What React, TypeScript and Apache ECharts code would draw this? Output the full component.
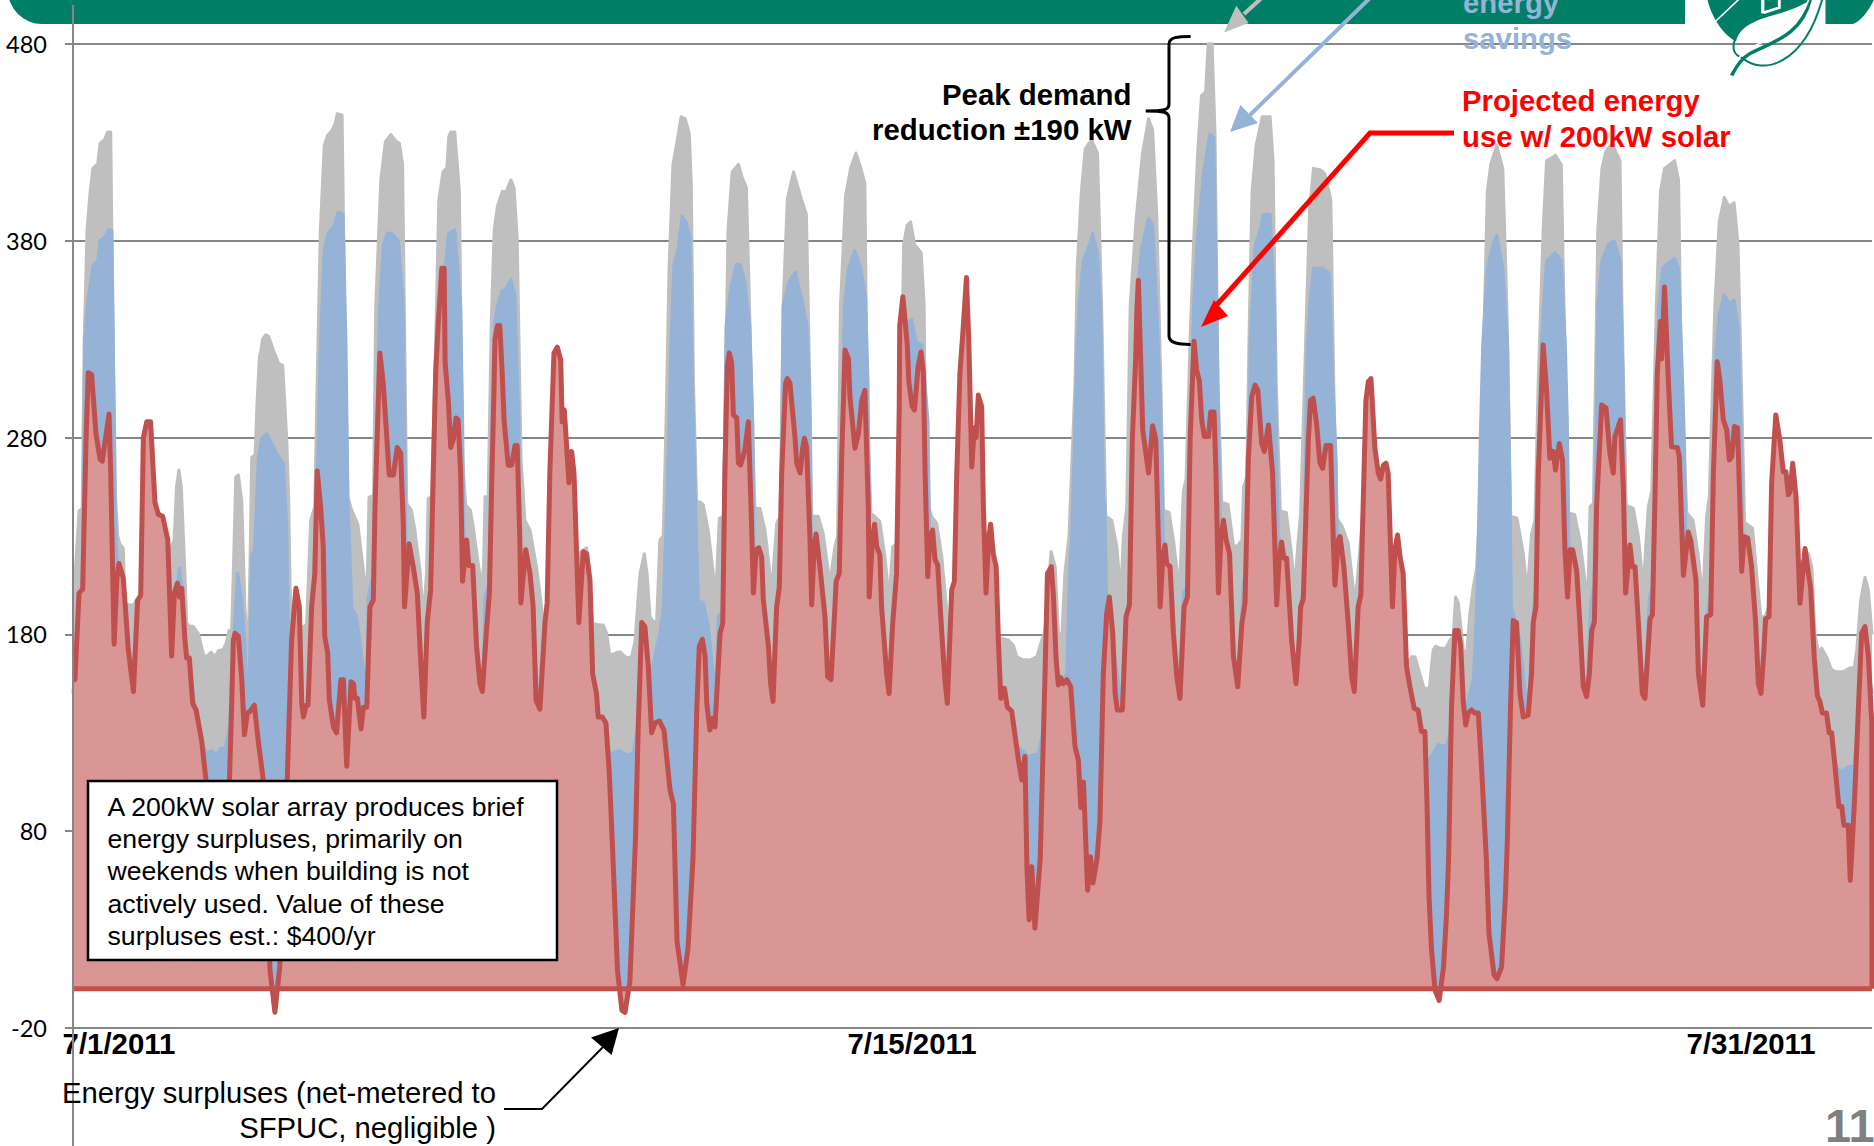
import React, { useEffect, useRef } from "react";
import * as echarts from "echarts";

// Hours since 7/1/2011 00:00 and kW.
const baselineKw: number[][] = [
[0,205],[0.9,211],[2.5,242.8],[3.8,243.8],[4.6,327.4],[5.8,385.7],[7.1,405],[8.2,416.8],[10.2,419],[11.2,429.5],[13.1,431.4],[14.3,435.3],[15.6,435.3],[16.4,346.8],[17.6,249.6],[18.5,230],[19.4,226],[20.8,223.7],[21.5,195.8],[23.3,195],[25,195],[26.3,198],[30,200],[38,215],[41.8,228],[42.8,255],[43.8,263.5],[44.8,255],[46.3,211],[47,185.6],[48.1,184.3],[49.8,184],[51.8,180.5],[53.2,173.8],[54.2,168.7],[56,169.5],[57.1,171],[58.7,168.7],[60.1,171.7],[62.2,172.4],[63.3,175.5],[64.5,182],[65.6,182.2],[66.3,211],[67.3,260],[68.4,261],[69.8,248],[71.1,194],[71.8,180],[72.6,180],[73.2,215],[73.9,270],[75.3,271],[76.2,300],[77.1,321],[77.7,324.4],[78.5,330.3],[79.7,332.2],[81,331.3],[83,324],[85.1,317.6],[86.7,316.7],[87.5,300],[88.4,279],[89.2,249.6],[89.8,202.6],[91,175],[93,180],[95.3,184],[96.6,185],[98.3,238],[100,245],[101,310],[102.3,385.7],[103.9,428.5],[105.2,433.4],[107.2,436.3],[108.5,440],[109.3,444.6],[111.3,444],[112.4,337],[113.7,249.6],[115.3,243],[117.8,236],[119.9,214.6],[121,203],[121.5,198],[122.1,230],[122.4,249.6],[124.3,250.6],[125.2,346.8],[127.3,411],[129.2,430.4],[131.4,434],[133.8,430.4],[135,429.5],[136.3,418.8],[137.4,308],[138,246.6],[140,243],[141.4,233],[143.5,212.7],[144.9,189],[146.2,211],[146.9,249],[148.3,250],[150,330],[151.3,401],[153,415],[154.6,417],[155.4,433],[156.2,435.3],[157.9,435.3],[159.8,405],[161.1,269],[162.4,245.7],[164.4,243],[165.5,234.7],[167.6,216],[169,204],[169.8,215],[170.4,250],[171.7,250],[173,340],[174.2,385.7],[175.5,397.4],[177.5,405],[179.1,405],[181.1,411],[182.4,407],[183.7,381.8],[185.3,269],[186.9,238],[189,233],[191.7,214.4],[193.8,194],[196,165],[205,200],[210,222],[212.4,224],[213.8,208],[214.9,185.6],[218,184.8],[219.3,184.8],[220.7,180.5],[222,169.5],[224.1,170.4],[226.2,171.2],[229,168],[231,168.7],[232.4,176.3],[233.5,195],[234.5,211],[236.3,221],[237.5,210],[238.6,189],[240,186.5],[241.4,187],[242.7,228],[244.1,230],[245.3,290],[246.5,366],[248.1,418.8],[249.8,430.4],[251.5,443],[253.2,442],[254.9,434.3],[255.7,409],[256.6,308],[257.9,247.6],[259.3,247.3],[260.7,245.7],[262.8,232],[264.8,211],[265.5,197.5],[266.2,210],[267.3,239],[269,240],[270.9,385.7],[272.6,415],[275.2,418.8],[276.8,412],[278.5,407],[280.6,308],[282,244],[284.1,244],[286.2,233],[289,202.6],[291,236.4],[292.4,240],[293.7,347],[295.4,401.3],[298,415],[301.3,401],[303.3,393.5],[304.7,308],[305.5,240],[308.2,240],[310.3,231],[313,206],[315.1,224.6],[316.2,230],[317.4,347],[319.5,403],[321.6,417],[323.8,424.6],[325.8,417],[327.5,409],[328.3,308],[330,241],[331,240.7],[333.7,237.3],[335.8,219.5],[337.5,197.5],[339,224.6],[340.6,226],[342.7,308],[343.5,378],[344.9,387.7],[346.4,389.6],[348.1,378],[350.8,374],[352,347],[352.8,249.6],[355.1,240],[357.2,236.4],[359.3,219.5],[361.6,189],[364,175],[372,190],[380,180],[384.1,178],[386.9,177],[388.9,174.6],[390.3,168.7],[392.4,167.3],[395.8,167],[398.6,168.7],[400.6,177],[402,182],[403.3,205],[404.5,222],[406.2,214.4],[407.5,180.5],[409,180.5],[410.2,211],[411.9,230],[414.4,308],[415.3,366],[417,405],[418.6,426.6],[421.2,431.4],[423.7,424.6],[425.4,347],[427.1,240],[429.6,238],[431.7,224.6],[433.3,201],[434.4,229.7],[435.8,245],[437.2,347],[439.7,391.5],[442.3,424.6],[444.8,442],[446.5,436.3],[448.2,393.5],[449.9,308],[451,243],[453.3,242],[455.1,228],[457.6,202.6],[459.2,253],[460.3,258.5],[462,330],[463.4,378],[465.1,424.6],[466.7,453.8],[468.4,455.7],[469.6,483],[471,484],[472.3,434.3],[473.5,308],[475.1,247],[477.7,246],[479.9,225.4],[481.3,224.6],[483.4,228],[484.1,255],[485.4,260],[486.5,340],[487.6,405],[489.3,428.5],[491.8,443],[495.1,443],[496.3,420.7],[497.6,308],[499.3,242.8],[501.8,241.8],[504,220.4],[505.2,203],[506.5,225],[507.7,241.8],[510.2,347],[511.4,395.4],[513,416.8],[516,416],[517.7,414],[520.2,401],[521.4,308],[522.7,239],[525,234.7],[527.4,226.3],[530.2,195.8],[532,220],[533.6,245],[536,230],[545,190],[552,165],[553.6,168.7],[555,168.7],[557,160],[558.8,152.6],[560.9,152.6],[562.5,172],[563.5,174],[565.3,173],[567.8,173],[569.4,177],[570.8,179],[571.8,199],[572.9,196],[575,172],[576.3,169.5],[577.7,190.7],[579.1,204],[580.5,214],[581.5,240],[582.9,308],[583.8,347],[584.9,405],[586.3,418.8],[588.8,428.5],[591.3,416.8],[593,347],[594.6,240],[597.2,239],[599.8,221],[601.4,201],[603.2,231],[604.6,238],[606,310],[608,385.7],[609.4,420.7],[612.2,422.7],[613,423.6],[615.5,418.8],[617.2,308],[618,241.8],[621,241],[623.2,228],[625.3,207.6],[626.3,190],[627.4,245],[628.8,246.6],[630.6,385.7],[632.3,416.8],[634,425.6],[636.4,429.5],[639.8,420.7],[640.6,347],[642.3,245.7],[645.3,244],[647.4,229.7],[649.4,204],[651.5,245],[652.9,253],[654.8,347],[656.5,405],[658.2,416.8],[662.4,420.7],[664,411],[665.2,308],[667.4,241.8],[670,238],[672.2,219.5],[674,197.5],[675.6,240],[676.7,250],[679,347],[680.8,389.6],[682.9,402],[684.9,397.4],[687,399.3],[688.6,378],[690,308],[691.3,237],[694.6,234],[696.3,211],[698,189],[699.8,189],[703,200],[710,210],[717.7,221],[719.1,214.4],[720.4,180.5],[721.8,171],[723.2,173],[725.2,168.7],[727.3,162],[729.4,161],[732.1,161],[734.9,163],[736.6,163],[737.7,172],[739.3,197.5],[741.1,209],[742.5,202.6],[744,180],
];

const afterEfficiencyKw: number[][] = [
[0,150],[2.5,195],[3.8,200],[4.9,331],[6.1,349],[8.2,367.2],[10.2,370],[11.2,380],[13.1,382],[14.8,385.7],[16.1,385],[16.7,327],[17.4,245],[18,224.6],[19,205],[22,160],[25,135],[27,180],[35,190],[42,195],[43,205],[44,213.6],[45,205],[46,180],[48,165],[52,130],[55.3,119.6],[57.4,121],[59.2,118.7],[60.8,122],[62.9,122],[64.7,133],[65.6,160],[67,189],[68.1,211],[69.8,197.5],[71.1,177],[72.1,143],[72.6,143],[73.2,177],[73.9,221],[75,222],[76.7,270],[78,279.6],[80.1,282],[82.2,277],[84.2,272],[87,267],[88.4,236],[89.1,177],[89.5,100],[92,115],[97,130],[99,190],[100.4,245],[101.2,270],[102.3,327.4],[103.9,376],[105.5,383.8],[108,387.7],[109.6,394.5],[111.7,393.5],[112.9,327.4],[113.7,250],[115.3,194],[117.3,189],[119.4,169],[120.8,157],[121.5,150],[122.1,199],[124,210],[126.8,347],[128.4,378],[130,383.8],[131.7,384],[134.6,380],[136.6,347],[137.3,279],[137.6,230],[139,200],[141,190],[143,165],[144.9,135],[146.2,175],[147,199],[148.3,199],[150,280],[151.3,347],[153.8,366],[155.4,383.8],[157.9,385.7],[160.3,347],[161.1,292.4],[161.8,220],[165,190],[168,160],[169.3,145],[170.4,199],[172,205],[173.4,300],[174.2,337],[175.5,347],[177.5,354.6],[179.1,355.6],[181.1,360.4],[182.7,352.7],[184.4,288.5],[185,215],[190,180],[193,140],[196,160],[205,170],[212,170],[216,140],[222,119.6],[222.7,119.6],[226.2,121],[229.2,118.7],[231.7,119.6],[233,130],[236,150],[239,160],[242.7,180.5],[244.1,194],[245.6,249.6],[247.3,327.4],[248.5,368],[250.2,376],[251.9,392.5],[253.5,389.6],[255.2,382],[256.2,308],[257.4,249.6],[258.6,197.5],[260.7,196],[262.8,184],[264.8,160],[265.5,140],[266.9,189],[268.5,192],[270.1,337],[271.8,354.6],[274.3,368],[276,368],[277.7,360],[279.9,337],[281.1,288.5],[281.8,210],[284,190],[287,165],[289.5,140],[291.5,190],[292.5,205],[293.7,347],[296.3,360],[298.8,364],[301.3,351],[303.5,337],[304.7,298],[305.5,215],[308,190],[311,170],[313.5,145],[315.5,190],[317,210],[319,347],[320.7,366],[323.3,375],[325.8,366],[327.8,351],[328.8,308],[329.5,215],[333,190],[336,165],[337.5,145],[339,185],[341,205],[342.5,280],[345.2,339],[346.9,340],[348.6,329],[351.1,327],[353.6,288.5],[354.5,215],[358,190],[361.6,145],[364,175],[370,180],[380,165],[385,130],[395.1,118],[399.3,119.6],[401,130],[405,150],[411,160],[411.7,194],[412.4,219.5],[413,230],[414.4,288],[415.3,327],[416.1,347],[417.8,370],[420.3,378],[421.7,383.8],[423.7,374],[425,347],[426.2,249.6],[426.8,245],[427.5,194],[430,175],[433,150],[434.5,145],[436,190],[437.5,210],[439.7,347],[441.9,376],[444.8,391.5],[446.5,388],[448.2,347],[449.4,308],[450.4,269],[451,215],[454,190],[457.5,150],[459.2,201],[461,205],[463.4,347],[465,382],[467.6,415],[470.1,434.3],[471.8,432.4],[473,347],[474.3,249.6],[474.9,215],[478,190],[481.7,150],[484,207],[486,215],[486.8,327.4],[488.9,378],[491,385.7],[492.3,393.5],[495.1,393.5],[496.8,347],[498,259],[498.7,215],[502,190],[505.8,150],[507.7,195],[509,205],[510.2,317.6],[511.4,347],[513,366],[516.9,366],[519.7,363.4],[521,308],[522.4,269],[523,215],[527,180],[530,150],[532,195],[536,190],[545,170],[552,140],[557,125],[560,115],[562.5,119.6],[564.6,124],[568,123],[569.4,130],[576.3,143],[579.1,157],[580.5,194],[581.2,228],[582,280],[583,327.4],[584.9,366],[587.1,378],[588.8,383],[591.3,366],[593.3,327],[594.3,249.6],[594.9,194],[598.4,177],[600.5,152],[601.8,140],[603.5,185],[605,205],[607.2,327],[609.4,370],[611.4,372],[613,374],[615.5,370],[617.2,327],[618,288.5],[618.8,215],[622,190],[625,155],[626,148],[627.6,196],[629,205],[630.6,347],[632.3,370],[634.8,378],[637.3,380],[639.8,370],[641.1,308],[642,215],[646,190],[650,150],[651.9,199],[653.5,205],[655.7,347],[657.4,366],[659.9,369],[662.4,371],[664,366],[665.7,308],[666.5,275],[667,215],[671,185],[674,145],[676,190],[678,210],[679,317.6],[680.8,343],[682.9,352.7],[684.9,348],[687,350],[688.6,337],[690,279],[690.8,215],[694,190],[698,150],[700,187],[705,185],[715,175],[722,135],[727,120],[730.1,111],[732.1,111],[734.6,113],[736.6,113],[738,135],[740,165],[742,170],[744,150],
];

const withSolarKw: number[][] = [
[0,157],[0.8,157],[2.5,201],[4,203],[5.4,279],[6.3,313],[7.7,312],[9.5,282],[11.2,269],[12.1,268],[13.5,280],[14.9,292],[15.6,262],[17,175],[18.1,208],[19,216],[20.8,208.5],[22.9,172],[25,151],[26.7,197],[28,200],[29.1,280],[30.5,288],[32.1,288],[33.9,247],[35.3,241],[37.1,240],[39.2,228],[40.8,169],[41.9,201],[43.2,206],[44,199],[45,203.4],[46.3,177],[47,168],[48.1,168],[49.5,145],[50.9,141.6],[53.2,126],[55,106],[58,70],[60,55],[62,60],[64.7,106],[65.6,143],[66.3,177],[67,180.6],[68.4,179],[69.8,157],[70.9,129],[72.1,140],[73.2,141],[75,144],[76.6,126],[78.7,106],[81.5,9],[83.5,-12],[85.5,11],[88.6,106],[90.4,177],[92.2,203.4],[93.6,194],[94.6,145],[95.3,138],[96.4,144],[97.2,144],[98.7,194],[100,211],[101,263],[102.4,245],[103.5,224.6],[104.1,179],[105.3,171],[106,146.7],[107.7,133],[109,130],[110.8,157],[111.8,157],[113.2,113],[115,156],[116,155],[116.6,147.5],[117.6,147.5],[119.1,132],[120.1,143],[121.5,143],[122.8,194],
[124.2,197.5],[124.9,245],[126.9,323],[128.3,307.6],[130.8,261],[132.5,261],[134.1,275],[135.5,272],[136.6,236],[137.1,194],[139,226],[140.7,214.4],[142.4,201],[144.2,157],[145.1,138],[146.5,186],[147.9,202.6],[149,262],[150,313],[151,337],[152.5,366],[153.5,366],[153.9,318],[155.2,299],[156.2,275],[157.3,279],[158.4,290],[159.3,289],[160.3,262],[161.1,207],[162.8,228],[163.7,215],[165.3,215],[166.9,174],[168.3,155],[169.3,151],[171,182],[172.2,201],[173.1,253],[174.1,304],[174.5,330],[175.6,337],[176.5,337],[177.5,313],[178.3,288.4],[180,266],[181.4,266],[182.8,276],[183.7,276],[184.8,228],[185.2,196],[187.2,223],[189,211],[190.3,194],[191.5,146.7],[193.1,142],[195.2,186],[196.1,196],[197.2,262],[198.9,323],[200.3,326],[201.7,319.5],[202.3,288],[203.2,294],[205.1,257],[206.2,273],[207.2,262],[209.2,186],[211,222],[212.4,221],[213.8,207.6],[214.9,160],[216.5,150],[217.2,138],[218.9,138],[220.4,135],[221.8,109.4],[223,75.5],[225.2,9],[227,-11],[228.3,-12],[230.3,3.6],[232.6,75.5],[233.8,135],[235.2,186],[236.5,184],[237.9,164],[239.3,130],[240.7,135],[242.5,136],[244.4,131.4],[246.9,101],[248.3,94],[249.8,24],[252.3,2],[254.3,20],[256.4,66],[258,143],[259,174],[260.3,177.5],
[261.4,169],[262.1,145],[263.4,131.4],[264.5,137.4],[265.5,133],[267.6,180.5],[268.7,185.6],[269.6,262],[270.6,316],[271.4,323],[272.4,318],[273.1,291.5],[274.5,290],[275.2,267],[276.1,266],[277.9,274],[279.3,288],[280.4,245],[281.4,201],[282.5,223],[283.6,224],[284.8,219.5],[285.5,197.5],[287.6,174],[288.5,155],[289.5,146],[291,194],[292.1,204],[293.1,262],[294.7,307.6],[295.4,310],[296.5,307.6],[298.6,280],[299.3,267],[300.7,262],[301.8,275],[302.5,279.6],[303.4,275],[304.8,228],[305.5,195],[306.5,224.6],[307.3,231],[308.9,214.4],[311,189],[312.1,158.5],[313.5,157],[315.1,194],[315.6,207],[316.9,211],[317.9,270],[319.3,324.5],[320.7,320],[321.3,301],[323.4,274.6],[324.8,282],[326.2,299],[327.5,304],[328.9,245],[329.3,199],[330.6,228],[331.5,236],[332.4,224.6],[333.7,220.4],[334.4,194],[336.5,160],[337.5,150],[339,185.6],[340.6,211],[341.7,296],[341.9,337],[343.2,351.6],[345,327.6],[345.7,308],[347,296],[348,294],[349.5,316],[350.7,323.5],[351.7,312.7],[352.4,262],[353.5,209.3],[354.4,229.7],[355.5,233],[356.5,218],[357.6,215.3],[359.3,180.5],[360.6,157],[361.6,145],[363.4,202.6],[364.5,207],[365.5,262],[366.8,312.7],[368,333],[369.5,361.4],[370.5,327.6],[371.7,265],[372.7,285],[373.5,280],[374.4,301.6],[375.8,295.7],[376.5,245],[377.6,201],
[378.6,228],[379.5,236],[380.6,221],[381.8,214.4],[382.7,177],[383.7,147.5],[385.2,152.6],[386.4,143],[388.2,141],[391,116.2],[392.4,106],[393.7,118],[394.5,62],[395.4,35],[396.5,62],[397.8,30.8],[400,66],[402,160],[403,211],[404.6,214.4],[405.5,199],[406.6,167],[407.5,154.3],[408.5,158],[409.6,155],[411,157],[412.6,153.5],[414.4,123],[415.8,116],[416.8,92],[417.9,105],[419.6,50],[420.8,67],[421.8,53.7],[423.5,66],[424.7,85],[426.1,160],[427.5,190.7],[428.6,199],[430,180.5],[431,150],[431.9,141.6],[434,141.6],[435.5,189],[436.9,195],[438.1,279],[439.5,321],[440,345],[440.6,360],[441.3,330],[442.4,284],[444.8,262],[446.5,286],[447.8,279],[449.6,194],[450.7,219.5],[451.6,225.4],[452.3,216],[453.7,214.4],[455.1,180.5],[456.5,158.5],[457.8,147.5],[459.5,194],[460.9,199],[462,279],[463.6,329],[464.7,314.3],[465.8,309],[466.8,289],[467.9,280.5],[469.6,280.5],[470.5,293],[471.9,293],[472.7,262],[473.7,201],[474.7,228],[475.8,238],[476.9,228],[478.3,221],[479.9,169],[481.7,153.4],[483.4,185.6],[484.7,196],[486.1,270],[487.5,300.8],[488.9,306.7],[490,304],[491.6,277],[492.7,273],[494.4,286.4],
[496.1,262],[497.8,195],[498.9,219.5],[499.8,227],[500.8,218.7],[501.9,218.7],[504,177],[505.8,155],[507.1,177],[507.7,194],[508.8,198],[510.9,278.8],[511.8,299],[512.9,300],[514.3,287],[515.7,267],[516.8,264.4],[518.2,276],[520.1,276],[521.2,228],[521.9,205],[523.3,228],[524,229.7],[525.6,214.4],[527.4,185.6],[528.8,158.5],[529.9,151],[531.5,194],[532.6,200],[533.9,262],[534.7,299],[535.7,308.4],[536.8,310],[538.4,275],[539.8,262],[540.8,259],[541.9,266],[543,267],[543.9,262],[545.7,194],[546.7,223],[547.8,230.5],[548.8,219.5],[550.1,211],[551.5,163.6],[552.9,153.4],[554.7,142.4],[556.3,141.6],[557.7,130.6],[559.1,130.6],[560,92.5],[560.8,47],[561.8,20.4],[563.3,-1],[565,-6],[566.8,11],[568,37],[568.9,66],[570.1,143],[571.5,182],[572.9,182],[573.9,174],[575,145],[576,134],[577,140],[578.4,141.6],[579.8,140],[581.2,140],[582.5,113],[584.5,66],[585.6,28],[587.7,7],[588.9,5],[590.8,11],[592.4,47],[593.2,75.5],[594.5,143],[595.6,187],[597,186],[598.4,150],[599.8,138],[601.8,139],[603.2,160],[603.9,186],[605,194],[606,262],[608,327],[609.4,304],[610.8,269.5],[612.2,273],[613.1,263.5],[614.7,277],[616,268.6],[617,223],[618.1,199],[619.1,223],
[620.2,223],[621.9,212],[623.2,185.6],[624.6,153.4],[626,148.4],[627.1,160],[628.1,182],[629.2,186.5],[630.1,245],[632.2,296.6],[634,295],[635.6,272],[637,262],[637.7,280.5],[640,289],[641.2,253],[642.1,201],[643.9,225.4],[644.9,214.4],[646,214.4],[647.4,185.6],[649,150],[650.1,147.5],[651.2,168.7],[652.2,188],[653.2,190],[654.3,253.4],[655.2,312.7],[656.5,339],[657,320],[658.2,356.5],[659.8,308],[661.1,275.4],[663.5,275],[664.3,270.3],[666,210],[668,232],[669,228],[671.2,207.6],[672.2,160],[674,144],[675.6,189],[677.3,190],[678.4,262],[680,318.6],[681.1,309],[682.5,289],[683.9,284],[685,268.6],[686,270.3],[687.1,285.6],[688.4,285],[689.4,245],[690.1,212],[691.1,229.7],[692.6,229],[694.2,214.4],[695.9,185.6],[697,155],[698.1,150],[699.3,172],[700,188],[701.4,189],[702.5,257],[704.2,291.5],[705.9,278.8],[707.3,262.7],[708.4,262.7],[709.4,251],[710.1,252.5],[711.2,267],[712.6,250],[714.2,195.8],[716.3,223.7],[717.7,211],[718.6,204],[720.1,168.7],[721.4,149],[722.5,145.8],[723.5,140],[725.2,140],[726.3,130],[727.3,130],[728.7,113],[730.3,92.5],[731.5,92.5],[732.4,83],[734.2,83],[735,55],[736.7,94],[738.4,143],[739.7,180.5],[741.1,184],[742.5,169],[743.9,135],[744,135],[744,0],
];

const zeroLineKw: number[][] = [[0, 0], [744, 0]];

const yTickValues = [-20, 80, 180, 280, 380, 480];
const dateTickHours = [19, 347, 694];
const dateTickLabels = ["7/1/2011", "7/15/2011", "7/31/2011"];

const boxLines = [
  "A 200kW solar array produces brief",
  "energy surpluses, primarily on",
  "weekends when building is not",
  "actively used. Value of these",
  "surpluses est.: $400/yr",
];
const peakLines = ["Peak demand", "reduction \u00b1190 kW"];
const solarLines = ["Projected energy", "use w/ 200kW solar"];
const savingsLines = ["energy", "savings"];
const surplusLines = ["Energy surpluses (net-metered to", "SFPUC, negligible )"];

const GREEN = "#007F66";
const SANS = '"Liberation Sans", Arial, sans-serif';

echarts.graphic.registerShape(
  "headerRight",
  echarts.graphic.extendPath("M1825.5 -5 L1825.5 24 L1853 24 C1861 21 1870 10 1876 -5 Z", {}),
);
echarts.graphic.registerShape(
  "brace",
  echarts.graphic.extendPath(
    "M1190.6 36.4 C1178 36.4 1169 37 1169 44 L1169 104 C1169 110 1164 111 1145.7 111 C1164 111 1169 112 1169 118 L1169 336 C1169 343 1178 344.4 1190.6 344.4",
    {},
  ),
);
echarts.graphic.registerShape(
  "leafTop",
  echarts.graphic.extendPath("M1156 -5 C1168 50 1198 92 1228 108 C1236 72 1270 55 1320 40 C1370 25 1400 10 1418 -5 Z", {}),
);
echarts.graphic.registerShape(
  "leafStem",
  echarts.graphic.extendPath("M1217 197 C1232 165 1245 150 1262 140 C1310 112 1392 95 1412 -5", {}),
);
echarts.graphic.registerShape(
  "leafEdge",
  echarts.graphic.extendPath("M1226 100 C1215 130 1225 145 1245 152 C1290 195 1395 175 1442 -5", {}),
);

function text(
  content: string,
  x: number,
  y: number,
  size: number,
  fill: string,
  align: string,
  bold = false,
  z = 60,
) {
  return {
    type: "text",
    x,
    y,
    z,
    silent: true,
    style: {
      text: content,
      fill,
      font: `${bold ? "bold " : ""}${size}px ${SANS}`,
      align,
      verticalAlign: "middle",
      textAlign: align,
      textVerticalAlign: "middle",
    },
  };
}

function arrow(points: number[][], head: number[][], color: string, width: number) {
  return [
    { type: "polyline", z: 55, silent: true, shape: { points }, style: { stroke: color, lineWidth: width, fill: "none" } },
    { type: "polygon", z: 55, silent: true, shape: { points: head }, style: { fill: color } },
  ];
}

function buildGraphics() {
  const els: any[] = [
    { type: "rect", z: 40, silent: true, shape: { x: 8, y: -40, width: 1677, height: 64, r: [0, 0, 0, 34] }, style: { fill: GREEN } },
    { type: "headerRight", z: 40, silent: true, style: { fill: GREEN } },
    {
      type: "group",
      x: 1240,
      y: 0,
      scaleX: 1 / 2.473,
      scaleY: 1 / 2.613,
      children: [
        { type: "leafTop", z: 41, silent: true, style: { fill: GREEN } },
        { type: "line", z: 42, silent: true, shape: { x1: 1178, y1: 55, x2: 1236, y2: -3 }, style: { stroke: "#ffffff", lineWidth: 4 } },
        { type: "rect", z: 42, silent: true, shape: { x: 1290, y: -5, width: 8, height: 40 }, style: { fill: "#ffffff" } },
        { type: "polyline", z: 42, silent: true, shape: { points: [[1296, 33], [1335, 20], [1335, -3]] }, style: { stroke: "#ffffff", lineWidth: 7, fill: "none" } },
        { type: "leafEdge", z: 41, silent: true, style: { stroke: GREEN, lineWidth: 5, fill: "none" } },
        { type: "leafStem", z: 42, silent: true, style: { stroke: GREEN, lineWidth: 9, fill: "none" } },
        { type: "leafStem", x: 0, y: -14, z: 42, silent: true, style: { stroke: "#ffffff", lineWidth: 4, fill: "none" } },
      ],
    },
    { type: "line", z: 50, silent: true, shape: { x1: 73, y1: 5, x2: 73, y2: 1146 }, style: { stroke: "#868686", lineWidth: 2 } },
    { type: "rect", z: 56, silent: true, shape: { x: 88, y: 781, width: 469, height: 179 }, style: { fill: "#ffffff", stroke: "#000000", lineWidth: 2.5 } },
    { type: "brace", z: 55, silent: true, style: { stroke: "#000000", lineWidth: 3, fill: "none" } },
    ...arrow([[1244, 14], [1266, -6]], [[1224, 32.5], [1236.3, 5.7], [1248.6, 23]], "#BFBFBF", 4),
    ...arrow([[1250, 115], [1372, -4]], [[1230, 132], [1240.4, 105], [1258, 123]], "#95B3D7", 4),
    ...arrow([[1454, 133], [1370, 133], [1214, 308]], [[1201, 327], [1214, 300], [1228, 316]], "#FF0000", 5),
    ...arrow([[504, 1109], [542, 1109], [604, 1046]], [[619, 1028], [591, 1037.6], [611.6, 1055]], "#000000", 2),
  ];
  boxLines.forEach((line, i) => els.push(text(line, 107.5, 807 + i * 32.2, 26.65, "#000000", "left")));
  peakLines.forEach((line, i) => els.push(text(line, 1131.5, 94 + i * 35, 29.4, "#000000", "right", true)));
  solarLines.forEach((line, i) => els.push(text(line, 1462, 100 + i * 36, 29.3, "#FF0000", "left", true)));
  savingsLines.forEach((line, i) => els.push(text(line, 1463, 2.5 + i * 36, 29.3, "#95B3D7", "left", true)));
  surplusLines.forEach((line, i) => els.push(text(line, 496, 1092.5 + i * 35.5, 29.25, "#000000", "right")));
  els.push(text("11", 1825, 1125, 47, "#7F7F7F", "left", true));
  return els;
}

function areaSeries(name: string, data: number[][], fill: string, z: number) {
  return {
    name,
    type: "line",
    data,
    z,
    showSymbol: false,
    silent: true,
    lineStyle: { color: fill, width: 3, join: "round" },
    itemStyle: { color: fill },
    areaStyle: { color: fill, opacity: 1, origin: 0 },
  };
}

export default function App() {
  const ref = useRef<HTMLDivElement>(null);
  useEffect(() => {
    const chart = echarts.init(ref.current!, undefined, { renderer: "svg" });
    chart.setOption({
      animation: false,
      backgroundColor: "#ffffff",
      graphic: { elements: buildGraphics() },
      grid: { left: 73, right: 2, top: 44, bottom: 118, containLabel: false },
      xAxis: {
        type: "value",
        min: 0,
        max: 744,
        splitLine: { show: false },
        axisLine: { show: false },
        axisTick: { show: false },
        axisLabel: {
          customValues: dateTickHours,
          formatter: (v: number) => dateTickLabels[dateTickHours.indexOf(v)] ?? "",
          color: "#000000",
          fontFamily: SANS,
          fontWeight: "bold",
          fontSize: 29.4,
          margin: 1,
          showMinLabel: true,
          showMaxLabel: true,
        },
      },
      yAxis: {
        type: "value",
        min: -20,
        max: 480,
        splitLine: { show: false },
        axisLine: { show: false },
        axisTick: { show: true, length: 8, customValues: yTickValues, lineStyle: { color: "#868686", width: 2 } },
        axisLabel: {
          customValues: yTickValues,
          color: "#000000",
          fontFamily: "Lato, sans-serif",
          fontSize: 23.5,
          margin: 25,
          padding: [0, 1, 2, 0],
        },
      },
      series: [
        {
          name: "gridlines",
          type: "line",
          data: [],
          z: 1,
          silent: true,
          markLine: {
            silent: true,
            z: 1,
            symbol: "none",
            animation: false,
            label: { show: false },
            lineStyle: { color: "#868686", width: 2, type: "solid" },
            data: yTickValues.map((v) => ({ yAxis: v })),
          },
        },
        areaSeries("baseline", baselineKw, "#BFBFBF", 3),
        areaSeries("after efficiency", afterEfficiencyKw, "#95B3D7", 4),
        {
          ...areaSeries("with 200kW solar", withSolarKw, "#D99694", 5),
          lineStyle: { color: "#C0504D", width: 5, join: "round" },
        },
        {
          name: "zero",
          type: "line",
          data: zeroLineKw,
          z: 6,
          showSymbol: false,
          silent: true,
          lineStyle: { color: "#C0504D", width: 5 },
        },
      ],
    });
    return () => chart.dispose();
  }, []);
  return <div ref={ref} style={{ position: "absolute", left: 0, top: 0, width: 1874, height: 1146 }} />;
}
